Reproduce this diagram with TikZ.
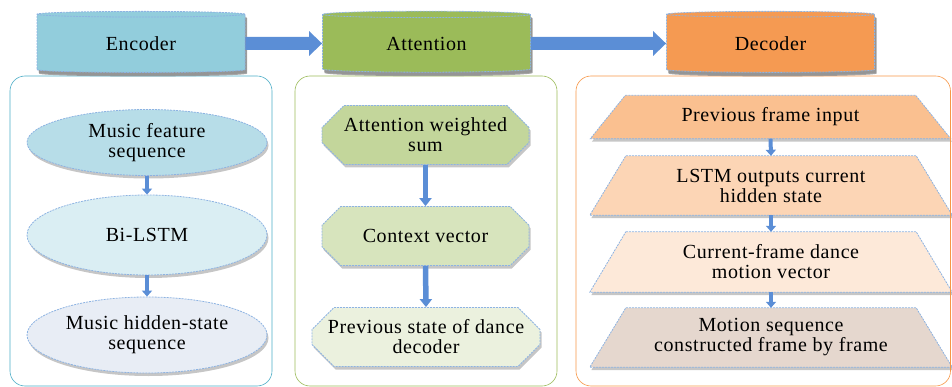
\documentclass[tikz,border=0pt]{standalone}
\usepackage{fontspec}
\setmainfont{Liberation Serif}[LetterSpace=3]
\usepackage{tikz}
\usetikzlibrary{shadows,arrows.meta,shapes.geometric,shapes.misc}
\usepackage{color}
\definecolor{dashblue}{HTML}{8DB3E2}
\definecolor{arrowblue}{HTML}{5B8ED6}
\definecolor{encfill}{HTML}{92CDDC}
\definecolor{attfill}{HTML}{9BBB59}
\definecolor{decfill}{HTML}{F59A52}
\definecolor{encline}{HTML}{4BACC6}
\definecolor{attline}{HTML}{9BBB59}
\definecolor{decline}{HTML}{F79646}
\definecolor{ellone}{HTML}{B7DDE8}
\definecolor{elltwo}{HTML}{DAEEF3}
\definecolor{ellthree}{HTML}{E8EDF5}
\definecolor{octone}{HTML}{C3D69B}
\definecolor{octtwo}{HTML}{D7E4BD}
\definecolor{octthree}{HTML}{EBF1DE}
\definecolor{trapone}{HTML}{FAC090}
\definecolor{traptwo}{HTML}{FCD5B5}
\definecolor{trapthree}{HTML}{FDE9D9}
\definecolor{trapfour}{HTML}{E5D7CE}
\pgfdeclarelayer{background}
\pgfsetlayers{background,main}
% trapezium behind a decoder node: node, fill, slant
\newcommand{\trapback}[3]{%
  \begin{pgfonlayer}{background}
    \draw[trapline, fill=#2] (#1.north west) -- (#1.north east)
        -- ([xshift=#3]#1.south east) -- ([xshift=-#3]#1.south west) -- cycle;
  \end{pgfonlayer}}

\begin{document}
\begin{tikzpicture}[x=1pt, y=-1pt,
    box/.style={draw=dashblue, line width=0.8pt, dash pattern=on 2pt off 1pt,
        drop shadow={shadow xshift=1.5pt, shadow yshift=-3pt, opacity=0.45},
        text centered, align=center, inner sep=0pt, text=black,
        font=\fontsize{20}{20}\selectfont},
    head/.style={box, cylinder, shape border rotate=90, aspect=0.08,
        minimum height=61pt, minimum width=208pt,
        drop shadow={shadow xshift=2pt, shadow yshift=-4pt, opacity=0.7}},
    encell/.style={box, ellipse, minimum width=240pt},
    attbox/.style={box, chamfered rectangle, chamfered rectangle xsep=10pt,
        chamfered rectangle ysep=12pt, minimum height=59pt},
    decbox/.style={rectangle, minimum width=290pt, align=center, inner sep=0pt,
        text=black, font=\fontsize{20}{20}\selectfont},
    trapline/.style={draw=dashblue, line width=0.8pt, dash pattern=on 2pt off 1pt,
        drop shadow={shadow xshift=1.5pt, shadow yshift=-3pt, opacity=0.45}},
    panel/.style={rounded corners=15pt, line width=0.6pt},
    bigarrow/.style={draw=arrowblue, line width=13pt, -{Triangle[length=13pt,width=24pt]}},
    smallarrow/.style={draw=arrowblue, line width=4pt, -{Triangle[length=6pt,width=10pt]}}
]
\useasboundingbox (0,0) rectangle (952,387);

% panels
\draw[panel, draw=encline] (10,76) rectangle (272,386);
\draw[panel, draw=attline] (295,76) rectangle (557,386);
\draw[panel, draw=decline] (576,76) rectangle (950.5,386);

% headers
\node (E0) [head, fill=encfill] at (141,43.5) {Encoder};
\node (A0) [head, fill=attfill] at (426.5,43.5) {Attention};
\node (D0) [head, fill=decfill] at (770.5,43.5) {Decoder};

\draw[bigarrow] (E0.east) -- (A0.west);
\draw[bigarrow] (A0.east) -- (D0.west);

% encoder
\node (E1) [encell, fill=ellone, minimum height=66pt] at (147,142.5) {Music feature\\sequence};
\node (E2) [encell, fill=elltwo, minimum height=80pt] at (147,235) {Bi-LSTM};
\node (E3) [encell, fill=ellthree, minimum height=76pt] at (147,335) {Music hidden-state\\sequence};

\draw[smallarrow] (E1.south) -- (E2.north);
\draw[smallarrow] (E2.south) -- (E3.north);

% attention
\node (A1) [attbox, fill=octone, minimum width=207pt] at (425.5,135) {Attention weighted\\sum};
\node (A2) [attbox, fill=octtwo, minimum width=207pt] at (425.5,236) {Context vector};
\node (A3) [attbox, fill=octthree, minimum width=228pt] at (426,337) {Previous state of dance\\decoder};

\draw[smallarrow, line width=5.5pt, -{Triangle[length=8pt,width=12pt]}] (A1.south) -- (A2.north);
\draw[smallarrow, line width=5.5pt, -{Triangle[length=8pt,width=12pt]}] (A2.south) -- (A3.north);

% decoder
\node (D1) [decbox, minimum height=43pt] at (770.5,117) {Previous frame input};
\node (D2) [decbox, minimum height=59pt] at (771,185.5) {LSTM outputs current\\hidden state};
\node (D3) [decbox, minimum height=60pt] at (771,262) {Current-frame dance\\motion vector};
\node (D4) [decbox, minimum height=59pt] at (771,337.5) {Motion sequence\\constructed frame by frame};
\trapback{D1}{trapone}{35pt}
\trapback{D2}{traptwo}{36pt}
\trapback{D3}{trapthree}{36pt}
\trapback{D4}{trapfour}{36pt}

\draw[smallarrow] (D1.south) -- (D2.north);
\draw[smallarrow] (D2.south) -- (D3.north);
\draw[smallarrow] (D3.south) -- (D4.north);

\end{tikzpicture}
\end{document}
